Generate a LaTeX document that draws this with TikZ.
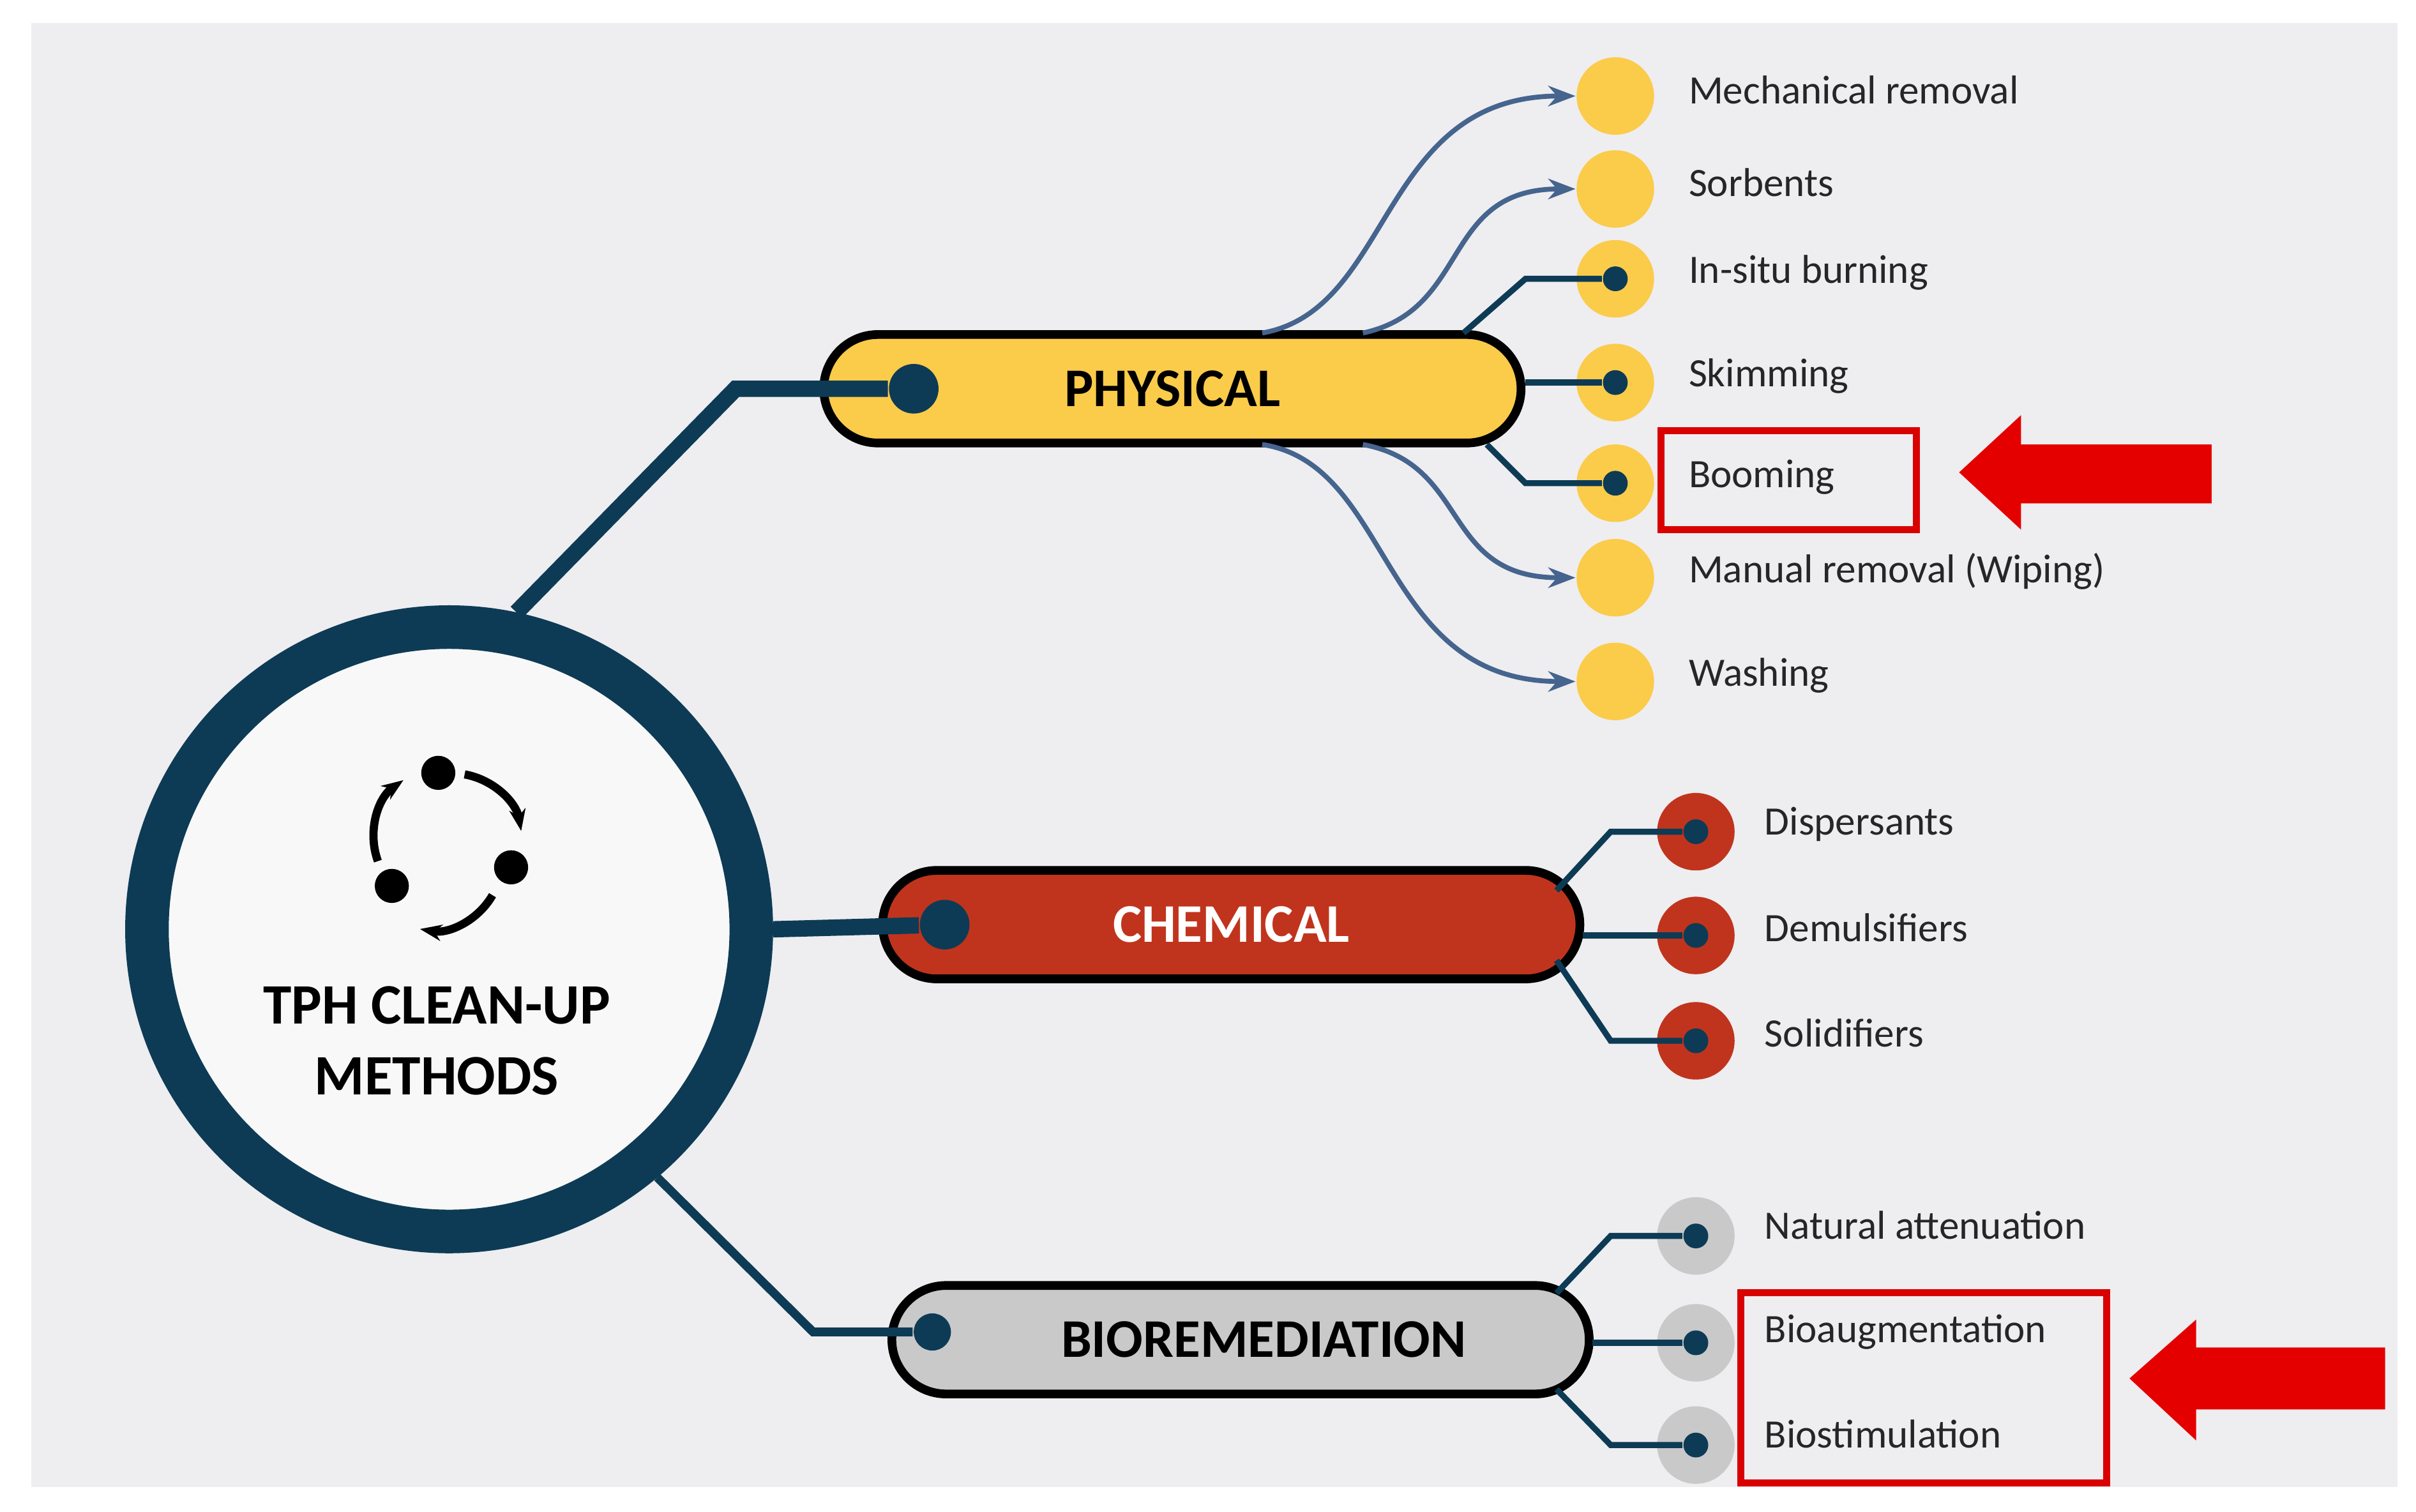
\documentclass[tikz,border=0pt]{standalone}
\usepackage{fontspec}
\setmainfont{Carlito}
\usetikzlibrary{arrows.meta}
\definecolor{navy}{HTML}{0D3B55}
\definecolor{ylw}{HTML}{FBCB4A}
\definecolor{rd}{HTML}{C0341D}
\definecolor{gr}{HTML}{C9C9C9}
\definecolor{bg}{HTML}{EEEDF0}
\definecolor{bl}{HTML}{45648E}
\begin{document}
\begin{tikzpicture}[x=0.01cm,y=-0.01cm,
 pill/.style={draw=black,line width=1.6pt,rounded corners=0.35cm,minimum width=4.5cm,minimum height=0.7cm,font=\bfseries\fontsize{10}{12}\selectfont},
 item/.style={circle,minimum size=0.5cm,inner sep=0},
 dot/.style={circle,fill=navy,minimum size=0.16cm,inner sep=0},
 bigdot/.style={circle,fill=navy,minimum size=0.32cm,inner sep=0},
 lab/.style={anchor=west,font=\fontsize{7.4}{9}\selectfont,text=black!85},
 conn/.style={navy,line width=1.1pt},
 carr/.style={bl,line width=0.9pt,-{Stealth[length=5pt]}},
 rbox/.style={draw=red!85!black,line width=1.3pt},
 rarr/.style={fill=red!90!black,draw=none}]
\useasboundingbox (0,0) rectangle (1560,976);
\fill[white] (0,0) rectangle (1560,976);
\fill[bg] (20,15) rectangle (1548,960);
% main circle
\node[circle,draw=navy,line width=8pt,fill=white!60!bg,minimum size=3.9cm] (c) at (290,600) {};
\node[align=center,font=\bfseries\fontsize{10.5}{13}\selectfont] (ct) at (282,672) {TPH CLEAN-UP\\METHODS};
% icon
\node[circle,fill=black,minimum size=0.22cm,inner sep=0] (i1) at (283,499) {};
\node[circle,fill=black,minimum size=0.22cm,inner sep=0] (i2) at (330,560) {};
\node[circle,fill=black,minimum size=0.22cm,inner sep=0] (i3) at (253,572) {};
\draw[line width=1.5pt,-{Stealth[length=4pt]}] (300,500) arc[start angle=80,end angle=10,radius=0.45cm];
\draw[line width=1.5pt,-{Stealth[length=4pt]}] (318,578) arc[start angle=-30,end angle=-100,radius=0.45cm];
\draw[line width=1.5pt,-{Stealth[length=4pt]}] (244,556) arc[start angle=200,end angle=125,radius=0.45cm];
% pills
\node[pill,fill=ylw] (ph) at (757,251) {PHYSICAL};
\node[pill,fill=rd,text=white] (ch) at (795,597) {CHEMICAL};
\node[pill,fill=gr] (bio) at (801,865) {\hspace*{0.3cm}BIOREMEDIATION};
\node[bigdot] (pd) at (590,251) {};
\node[bigdot] (cd) at (610,597) {};
\node[bigdot,minimum size=0.24cm] (bd) at (602,860) {};
\coordinate (k1) at (475,251);
\coordinate (k2) at (525,860);
\draw[navy,line width=3pt] (c.78) -- (k1) -- (pd);
\draw[navy,line width=3pt] (c.east) -- (cd);
\draw[navy,line width=1.6pt] (c.-50) -- (k2) -- (bd);
% physical items
\foreach \n/\y/\t in {a/62/Mechanical removal,b/122/Sorbents,c/180/In-situ burning,d/247/Skimming,e/312/Booming,f/373/Manual removal (Wiping),g/440/Washing}{
 \node[item,fill=ylw] (p\n) at (1043,\y) {};
 \node[lab] (pl\n) at (1078,\y-4) {\t};
}
\node[dot] (pcd) at (pc) {};
\node[dot] (pdd) at (pd) {};
\node[dot] (ped) at (pe) {};
\coordinate (ptop) at (815,215);
\coordinate (pbot) at (815,287);
\draw[carr] (ptop) .. controls (900,200) and (890,62) .. (pa.west);
\draw[carr] (880,215) .. controls (950,200) and (930,122) .. (pb.west);
\draw[carr] (pbot) .. controls (900,300) and (890,440) .. (pg.west);
\draw[carr] (880,287) .. controls (950,300) and (930,373) .. (pf.west);
\draw[conn] (945,215) -- (985,180) -- (pcd);
\draw[conn] (985,247) -- (pdd);
\draw[conn] (960,287) -- (985,312) -- (ped);
% chemical items
\foreach \n/\y/\t in {a/537/Dispersants,b/604/Demulsifiers,c/672/Solidifiers}{
 \node[item,fill=rd] (c\n) at (1095,\y) {};
 \node[dot] (cd\n) at (c\n) {};
 \node[lab] (cl\n) at (1127,\y-5) {\t};
}
\draw[conn] (1005,575) -- (1040,537) -- (cda);
\draw[conn] (1022,604) -- (cdb);
\draw[conn] (1005,620) -- (1040,672) -- (cdc);
% bio items
\foreach \n/\y/\t in {a/798/Natural attenuation,b/867/Bioaugmentation,c/933/Biostimulation}{
 \node[item,fill=gr] (b\n) at (1095,\y) {};
 \node[dot] (bd\n) at (b\n) {};
 \node[lab] (bl\n) at (1127,\y-7) {\t};
}
\draw[conn] (1005,835) -- (1040,798) -- (bda);
\draw[conn] (1028,867) -- (bdb);
\draw[conn] (1005,897) -- (1040,933) -- (bdc);
% red highlights
\node[rbox,minimum width=1.65cm,minimum height=0.64cm] (r1) at (1155,310) {};
\node[rbox,minimum width=2.36cm,minimum height=1.23cm] (r2) at (1242,896) {};
\fill[rarr] (1265,305) -- (1305,268) -- (1305,287) -- (1428,287) -- (1428,325) -- (1305,325) -- (1305,342) -- cycle;
\fill[rarr] (1375,890) -- (1418,852) -- (1418,870) -- (1540,870) -- (1540,910) -- (1418,910) -- (1418,930) -- cycle;
\end{tikzpicture}
\end{document}
